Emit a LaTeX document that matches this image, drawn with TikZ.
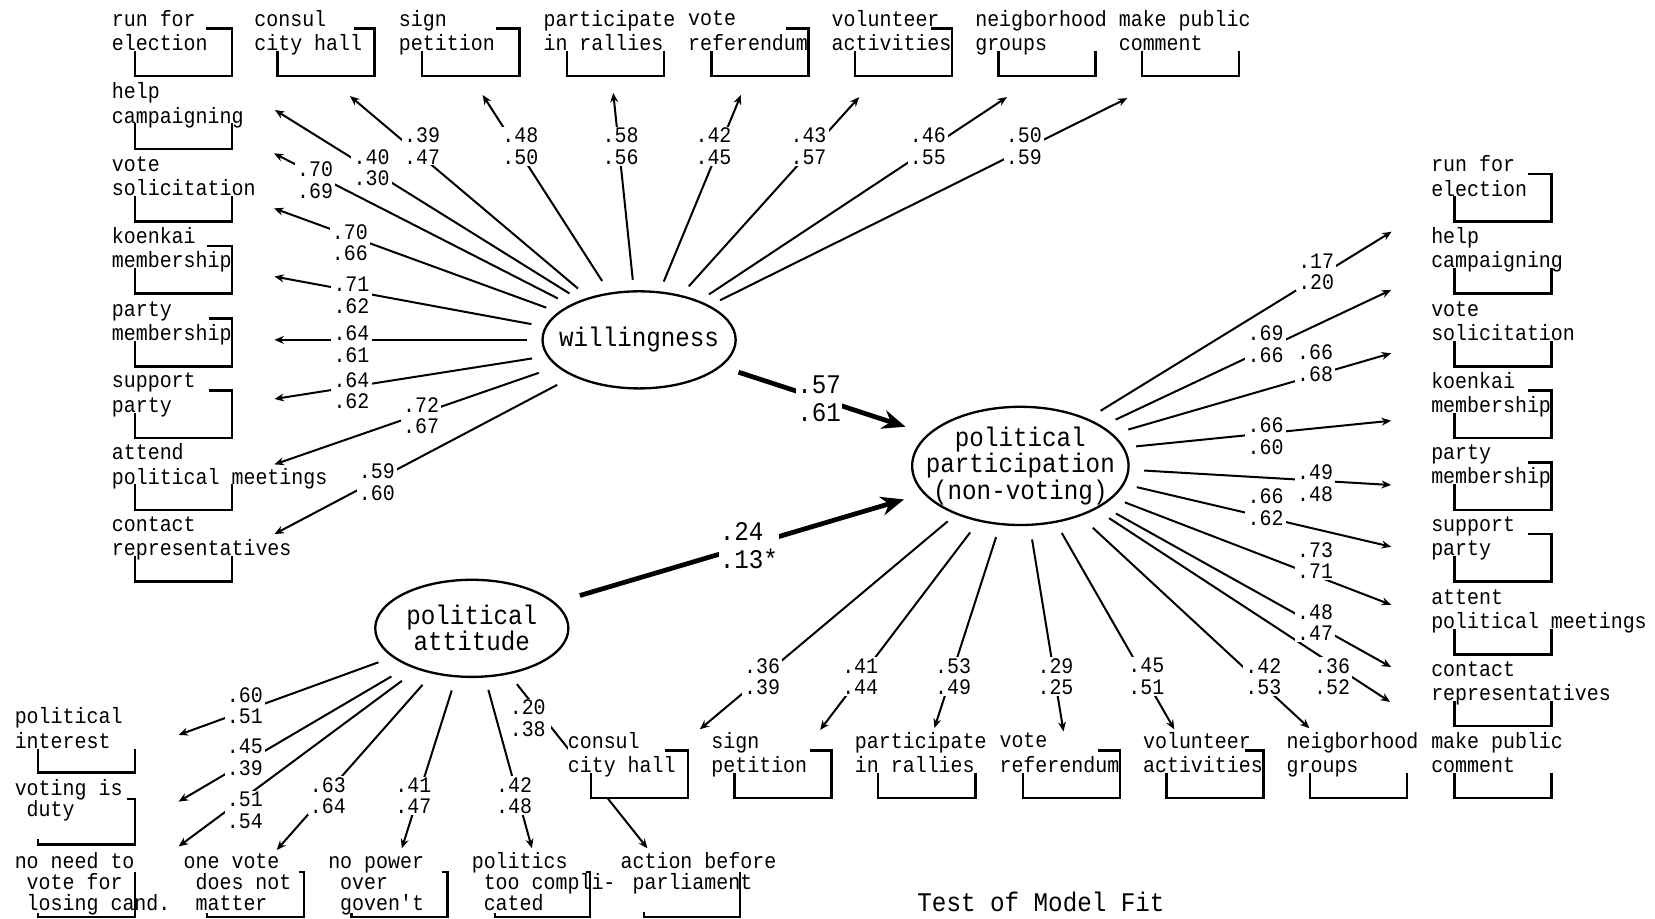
\documentclass[tikz,border=0pt]{standalone}
\usepackage{fontspec}
\newfontfamily\monof[FakeStretch=0.9]{Liberation Mono}
\usetikzlibrary{arrows.meta,shapes.geometric}
\newcommand\lsp{\hphantom{x}}
\newcommand\mkitem[5][itm]{\node[#1] (#2) at (#3,#4-8.5) {\rule{0pt}{15pt}#5\rule[-3pt]{0pt}{3pt}};}
\newcommand\brkT[3]{\draw[brk] (#3,#2+9) -- (#1+114,#2+9) -- (#1+114,#2+54) -- (#1+22,#2+54) -- (#1+22,#2+30);}
\newcommand\brkN[2]{\draw[brk] (#1+114,#2+30) -- (#1+114,#2+54) -- (#1+22,#2+54) -- (#1+22,#2+30);}
\begin{document}
\begin{tikzpicture}[x=1pt,y=-1pt,
 itm/.style={anchor=north west, inner sep=0pt, outer sep=0pt, fill=white, align=left, font={\monof\fontsize{21}{23}\selectfont\lineskiplimit=-100pt}},
 itmc/.style={itm, font={\monof\fontsize{21}{20}\selectfont\lineskiplimit=-100pt}},
 lab/.style={fill=white, inner xsep=2pt, inner ysep=1pt, align=left, font={\monof\fontsize{21}{20.5}\selectfont\lineskiplimit=-100pt}},
 blab/.style={fill=white, inner sep=1pt, align=left, font={\monof\fontsize{25.5}{26}\selectfont\lineskiplimit=-100pt}},
 ell/.style={ellipse, draw, line width=2.2pt, inner sep=0pt},
 etxt/.style={align=center, inner sep=0pt, font={\monof\fontsize{25.5}{23.5}\selectfont}},
 ld/.style={line width=1.9pt, -{Stealth[length=9pt,width=7.5pt]}},
 tk/.style={line width=4.5pt, -{Stealth[length=22pt,width=18pt]}},
 brk/.style={line width=2.4pt, line join=miter}]
\useasboundingbox (0,0) rectangle (1568,870);

% latent variables
\node[ell, minimum width=183pt, minimum height=92pt, label={[etxt]center:willingness}] (W) at (605.5,322) {};
\node[ell, minimum width=205pt, minimum height=112pt, label={[etxt]center:political\\participation\\(non-voting)}] (P) at (966.7,441.4) {};
\node[ell, minimum width=183pt, minimum height=92pt, label={[etxt]center:political\\attitude}] (A) at (447,595.3) {};

% tips
\coordinate (tw1) at (260,322);
\coordinate (tw2) at (260,262);
\coordinate (tw3) at (259.6,197.4);
\coordinate (tw4) at (259.6,145.3);
\coordinate (tw5) at (260.5,104.2);
\coordinate (tw6) at (331.6,91);
\coordinate (tw7) at (457.3,90);
\coordinate (tw8) at (581,88);
\coordinate (tw9) at (702,90);
\coordinate (tw10) at (814,92);
\coordinate (tw11) at (954,92);
\coordinate (tw12) at (1068,93);
\coordinate (tw13) at (260,378);
\coordinate (tw14) at (260,440);
\coordinate (tw15) at (260,506);
\coordinate (tp1) at (1318.5,219.5);
\coordinate (tp2) at (1318,274.7);
\coordinate (tp3) at (1318,334.7);
\coordinate (tp4) at (1318,398.6);
\coordinate (tp5) at (1318,459.5);
\coordinate (tp6) at (1318,518);
\coordinate (tp7) at (1318,573);
\coordinate (tp8) at (1318,632);
\coordinate (tp9) at (1317,665);
\coordinate (tp10) at (1240.6,690);
\coordinate (tp11) at (1112.6,691);
\coordinate (tp12) at (1007.6,693);
\coordinate (tp13) at (885.3,689.8);
\coordinate (tp14) at (777,691.6);
\coordinate (tp15) at (663,691);
\coordinate (ta1) at (169.2,696.3);
\coordinate (ta2) at (169.2,759.5);
\coordinate (ta3) at (169.2,802);
\coordinate (ta4) at (262.2,805.3);
\coordinate (ta5) at (380.7,803.7);
\coordinate (ta6) at (504,803.7);
\coordinate (ta7) at (613.4,803.7);

% arrow passing behind "consul city hall"
\draw[ld,shorten <=12pt] (A.309) -- (ta7);

% ---- items: willingness, top row
\fill[white] (560,711) rectangle (652,756);
\mkitem{wrun}{106}{18}{run for\\election}
\mkitem{wcons}{241}{18}{consul\\city hall}
\mkitem{wsign}{378}{18}{sign\\petition}
\mkitem{wrall}{515}{18}{participate\\in rallies}
\mkitem{wref}{652}{18}{vote\\referendum}
\mkitem{wvol}{788}{18}{volunteer\\activities}
\mkitem{wngh}{924}{18}{neigborhood\\groups}
\mkitem{wcom}{1060}{18}{make public\\comment}
% willingness, left column
\mkitem{whelp}{106}{87}{help\\campaigning}
\mkitem{wsol}{106}{156}{vote\\solicitation}
\mkitem{wkoe}{106}{224}{koenkai\\membership}
\mkitem{wpty}{106}{293}{party\\membership}
\mkitem{wsup}{106}{361}{support\\party}
\mkitem{watt}{106}{429}{attend\\political meetings}
\mkitem{wcon}{106}{497}{contact\\representatives}
% participation, right column
\mkitem{prun}{1356}{156}{run for\\election}
\mkitem{phelp}{1356}{224}{help\\campaigning}
\mkitem{psol}{1356}{293}{vote\\solicitation}
\mkitem{pkoe}{1356}{361}{koenkai\\membership}
\mkitem{ppty}{1356}{429}{party\\membership}
\mkitem{psup}{1356}{497}{support\\party}
\mkitem{patt}{1356}{566}{attent\\political meetings}
\mkitem{pcon}{1356}{634}{contact\\representatives}
\mkitem{pcom}{1356}{702}{make public\\comment}
% participation, bottom row
\mkitem{pcons}{538}{702}{consul\\city hall}
\mkitem{psign}{674}{702}{sign\\petition}
\mkitem{prall}{810}{702}{participate\\in rallies}
\mkitem{pref}{947}{702}{vote\\referendum}
\mkitem{pvol}{1083}{702}{volunteer\\activities}
\mkitem{pngh}{1219}{702}{neigborhood\\groups}
% attitude items
\mkitem{aint}{14}{679}{political\\interest}
\mkitem[itmc]{aduty}{14}{747}{voting is\\\lsp duty\\}
\mkitem[itmc]{alose}{14}{816}{no need to\\\lsp vote for\\\lsp losing cand.}
\mkitem[itmc]{aone}{174}{816}{one vote\\\lsp does not\\\lsp matter}
\mkitem[itmc]{apow}{311}{816}{no power\\\lsp over\\\lsp goven't}
\mkitem[itmc]{acomp}{447}{816}{politics\\\lsp too compli-\\\lsp cated}
\mkitem[itmc]{aact}{588}{816}{action before\\\lsp parliament}

% ---- brackets
\brkT{106}{18}{195}
\brkT{241}{18}{335}
\brkT{378}{18}{470}
\brkN{515}{18}
\brkT{652}{18}{745}
\brkT{788}{18}{882}
\brkN{924}{18}
\brkN{1060}{18}
\brkN{106}{87}
\brkN{106}{156}
\brkT{106}{224}{196}
\brkT{106}{293}{198}
\brkT{106}{361}{198}
\brkN{106}{429}
\brkN{106}{497}
\brkT{1356}{156}{1448}
\brkN{1356}{224}
\brkN{1356}{293}
\brkT{1356}{361}{1448}
\brkT{1356}{429}{1448}
\brkT{1356}{497}{1448}
\brkN{1356}{566}
\brkN{1356}{634}
\brkN{1356}{702}
\brkT{538}{702}{630}
\brkT{674}{702}{767}
\brkN{810}{702}
\brkT{947}{702}{1040}
\brkT{1083}{702}{1180}
\brkN{1219}{702}
\draw[brk] (128,710) -- (128,732) -- (36,732) -- (36,710);
\draw[brk] (120,757) -- (128,757) -- (128,800) -- (36,800) -- (36,795);
\draw[brk] (128,826) -- (128,869) -- (36,869) -- (36,865);
\draw[brk] (283,826) -- (288,826) -- (288,869) -- (196,869) -- (196,865);
\draw[brk] (419,826) -- (424,826) -- (424,869) -- (333,869) -- (333,865);
\draw[brk] (555,826) -- (559,826) -- (559,869) -- (469,869) -- (469,865);
\draw[brk] (701,826) -- (701,869) -- (610,869) -- (610,864);

% ---- loadings of willingness
\draw[ld,shorten <=14pt] (W.180) -- (tw1);
\draw[ld,shorten <=13pt] (W.172) -- (tw2);
\draw[ld,shorten <=12pt] (W.161) -- (tw3);
\draw[ld,shorten <=13pt] (W.153) -- (tw4);
\draw[ld,shorten <=12pt] (W.146) -- (tw5);
\draw[ld,shorten <=13pt] (W.140) -- (tw6);
\draw[ld,shorten <=13pt] (W.122) -- (tw7);
\draw[ld,shorten <=10pt] (W.96) -- (tw8);
\draw[ld,shorten <=10pt] (W.67) -- (tw9);
\draw[ld,shorten <=11pt] (W.47) -- (tw10);
\draw[ld,shorten <=11pt] (W.33) -- (tw11);
\draw[ld,shorten <=11pt] (W.26) -- (tw12);
\draw[ld,shorten <=14pt] (W.190) -- (tw13);
\draw[ld,shorten <=18pt] (W.198) -- (tw14);
\draw[ld,shorten <=17pt] (W.209) -- (tw15);
% ---- loadings of participation
\draw[ld,shorten <=14pt] (P.35) -- (tp1);
\draw[ld,shorten <=14pt] (P.26) -- (tp2);
\draw[ld,shorten <=15pt] (P.19) -- (tp3);
\draw[ld,shorten <=11pt] (P.10) -- (tp4);
\draw[ld,shorten <=14pt] (P.358) -- (tp5);
\draw[ld,shorten <=12pt] (P.350) -- (tp6);
\draw[ld,shorten <=12pt] (P.341) -- (tp7);
\draw[ld,shorten <=15pt] (P.334) -- (tp8);
\draw[ld,shorten <=15pt] (P.330) -- (tp9);
\draw[ld,shorten <=16pt] (P.320) -- (tp10);
\draw[ld,shorten <=11pt] (P.302) -- (tp11);
\draw[ld,shorten <=13pt] (P.279) -- (tp12);
\draw[ld,shorten <=12pt] (P.251) -- (tp13);
\draw[ld,shorten <=13pt] (P.233) -- (tp14);
\draw[ld,shorten <=10pt] (P.217) -- (tp15);
% ---- loadings of attitude
\draw[ld,shorten <=14pt] (A.200) -- (ta1);
\draw[ld,shorten <=19pt] (A.211) -- (ta2);
\draw[ld,shorten <=18pt] (A.217) -- (ta3);
\draw[ld,shorten <=14pt] (A.229) -- (ta4);
\draw[ld,shorten <=13pt] (A.252) -- (ta5);
\draw[ld,shorten <=12pt] (A.285) -- (ta6);
% ---- structural paths
\draw[tk,shorten <=17pt,shorten >=22pt] (W.342) -- (P.161);
\draw[tk,shorten <=24pt,shorten >=19pt] (A.17) -- (P.196);

% ---- labels
\node[lab] (lw1) at (333,326) {.64\\.61};
\node[lab] (lw2) at (333,280) {.71\\.62};
\node[lab] (lw3) at (331.5,230) {.70\\.66};
\node[lab] (lw4) at (298.5,171) {.70\\.69};
\node[lab] (lw5) at (352,159) {.40\\.30};
\node[lab] (lw6) at (400,138.5) {.39\\.47};
\node[lab] (lw7) at (493,138.5) {.48\\.50};
\node[lab] (lw8) at (588,138.5) {.58\\.56};
\node[lab] (lw9) at (676,138.5) {.42\\.45};
\node[lab] (lw10) at (766,138.5) {.43\\.57};
\node[lab] (lw11) at (879,138.5) {.46\\.55};
\node[lab] (lw12) at (970,138.5) {.50\\.59};
\node[lab] (lw13) at (333,370) {.64\\.62};
\node[lab] (lw14) at (399,394) {.72\\.67};
\node[lab] (lw15) at (357,457) {.59\\.60};
\node[lab] (lp1) at (1247,257.5) {.17\\.20};
\node[lab] (lp2) at (1199,326) {.69\\.66};
\node[lab] (lp3) at (1246,344) {.66\\.68};
\node[lab] (lp4) at (1199,413) {.66\\.60};
\node[lab] (lp5) at (1246,458) {.49\\.48};
\node[lab] (lp6) at (1199,480.5) {.66\\.62};
\node[lab] (lp7) at (1246,531) {.73\\.71};
\node[lab] (lp8) at (1246,590) {.48\\.47};
\node[lab] (lp9) at (1262,641) {.36\\.52};
\node[lab] (lp10) at (1197,641) {.42\\.53};
\node[lab] (lp11) at (1086,641) {.45\\.51};
\node[lab] (lp12) at (1000,641) {.29\\.25};
\node[lab] (lp13) at (903,641) {.53\\.49};
\node[lab] (lp14) at (815,641) {.41\\.44};
\node[lab] (lp15) at (722,641) {.36\\.39};
\node[lab] (la1) at (232,668.7) {.60\\.51};
\node[lab] (la2) at (232,717.7) {.45\\.39};
\node[lab] (la3) at (232,767.5) {.51\\.54};
\node[lab] (la4) at (310.6,754) {.63\\.64};
\node[lab] (la5) at (391.7,754) {.41\\.47};
\node[lab] (la6) at (487,754) {.42\\.48};
\node[lab, inner xsep=5pt] (la7) at (500,680.5) {.20\\.38};
\node[blab] (l57) at (776,378) {.57\\.61};
\node[blab] (l24) at (709.5,517) {.24\\.13*};

\node[blab, fill=none, anchor=base west] (fit) at (868,864) {Test of Model Fit};
\end{tikzpicture}
\end{document}
